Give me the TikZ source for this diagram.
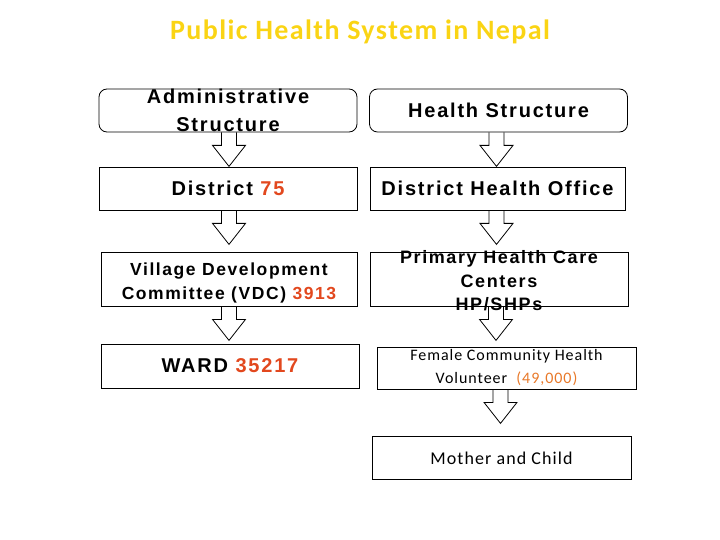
\documentclass[tikz,border=0pt]{standalone}
\usepackage{fontspec}
\setmainfont{Liberation Sans}
\newfontfamily\arialb[LetterSpace=9]{Liberation Sans Bold}
\newfontfamily\calib[LetterSpace=6]{Carlito}
\newfontfamily\calibb[LetterSpace=5]{Carlito Bold}
\definecolor{numred}{RGB}{226,72,30}
\definecolor{numorange}{RGB}{232,120,40}
\definecolor{titleyellow}{RGB}{250,212,20}
\tikzset{
  box/.style={draw=black, line width=0.8pt, minimum width=258pt, minimum height=43pt, inner sep=0pt, align=center},
  rbox/.style={box, rounded corners=8pt},
  arr/.style={draw=black, line width=0.8pt, line join=miter},
}
\newcommand\blockarr[2]{%
  \draw[arr] ([xshift=#2pt]#1.south) ++(-7.5,0) -- ++(0,13) -- ++(-9,0) -- ++(16.5,21) -- ++(16.5,-21) -- ++(-9,0) -- ++(0,-13);}
\begin{document}
\begin{tikzpicture}[x=1pt,y=-1pt]
\useasboundingbox (0,0) rectangle (720,540);
\node[text=titleyellow, font=\calibb\fontsize{28}{32}\selectfont] (title) at (360,32) {Public Health System in Nepal};

\node[rbox, font=\arialb\fontsize{20}{28}\selectfont] (adm) at (228,110.5) {Administrative\\Structure};
\node[rbox, font=\arialb\fontsize{20}{24}\selectfont] (hs) at (498.5,110.5) {Health Structure};
\node[box, font=\arialb\fontsize{20}{24}\selectfont] (dist) at (228,188.5) {District \textcolor{numred}{75}};
\node[box, minimum width=255pt, font=\arialb\fontsize{20}{24}\selectfont] (dho) at (497.5,188.5) {District Health Office};
\node[box, minimum width=256pt, minimum height=54pt, font=\arialb\fontsize{17.5}{24}\selectfont] (vdc) at (229,279) {\\[-3pt]Village Development\\Committee (VDC) \textcolor{numred}{3913}};
\node[box, minimum width=258pt, minimum height=54pt] (phc) at (499,279) {};
\node[align=center, inner sep=0pt, font=\arialb\fontsize{18}{23.5}\selectfont] (phct) at (499,281) {Primary Health Care\\Centers\\HP/SHPs};
\node[box, minimum height=44pt, font=\arialb\fontsize{20}{24}\selectfont] (ward) at (230,366) {WARD \textcolor{numred}{35217}};
\node[box, minimum width=259pt, minimum height=42pt, font=\calib\fontsize{16}{23}\selectfont] (fchv) at (506.5,368) {Female Community Health\\Volunteer\ \ \textcolor{numorange}{(49,000)}};
\node[box, minimum width=259pt, minimum height=43pt, font=\calib\fontsize{18}{22}\selectfont] (mc) at (501.5,458) {Mother and Child};

\blockarr{adm}{1}
\blockarr{dist}{1}
\blockarr{vdc}{0}
\blockarr{hs}{-2}
\blockarr{dho}{-1}
\blockarr{phc}{-3}
\blockarr{fchv}{-6}
\end{tikzpicture}
\end{document}
